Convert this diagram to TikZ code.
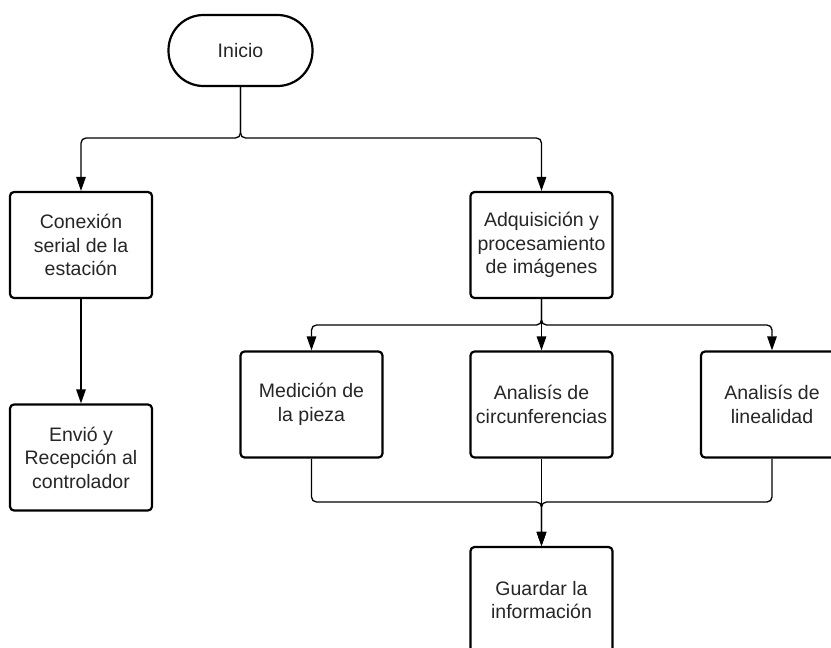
\documentclass[tikz,border=0pt]{standalone}
\usepackage{fontspec}
\setmainfont{Liberation Sans}
\usetikzlibrary{arrows.meta}
\begin{document}
\begin{tikzpicture}[x=1pt,y=-1pt,
  every node/.style={font=\fontsize{19.5}{23.5}\selectfont, text=black!85, align=center},
  procbox/.style={draw, line width=2.2pt, rounded corners=4pt, minimum width=142pt, minimum height=106pt, inner sep=0pt},
  termbox/.style={draw, line width=2.2pt, rounded corners=35pt, minimum width=144pt, minimum height=71pt, inner sep=0pt},
  link/.style={line width=1.3pt, rounded corners=5pt, -{Triangle[width=9.5pt,length=14pt]}}
]
\clip (0,0) rectangle (831,648);
\fill[white] (0,0) rectangle (831,648);

\node[termbox] (start) at (240.5,50.5) {Inicio};
\node[procbox] (conn) at (81,245) {Conexión\\serial de la\\estación};
\node[procbox] (envio) at (81,457.5) {Envió y\\Recepción al\\controlador};
\node[procbox] (adq) at (541.5,245) {Adquisición y\\procesamiento\\de imágenes};
\node[procbox] (med) at (311.5,404.5) {Medición de\\la pieza};
\node[procbox] (circ) at (541.5,404.5) {Analisís de\\circunferencias};
\node[procbox] (lin) at (772,404.5) {Analisís de\\linealidad};
\node[procbox] (guard) at (541.5,600) {Guardar la\\información};

\coordinate (j1) at (240.5,138);
\coordinate (j2) at (541.5,325);
\coordinate (j3) at (541.5,502);

\draw[link] (start.south) -- (j1) -| (conn.north);
\draw[link] (start.south) -- (j1) -| (adq.north);
\draw[link] (conn.south) -- (envio.north);

\draw[link] (adq.south) -- (j2) -| (med.north);
\draw[link] (adq.south) -- (circ.north);
\draw[link] (adq.south) -- (j2) -| (lin.north);

\draw[link] (med.south) |- (j3) -- (guard.north);
\draw[link] (circ.south) -- (guard.north);
\draw[link] (lin.south) |- (j3) -- (guard.north);
\end{tikzpicture}
\end{document}
